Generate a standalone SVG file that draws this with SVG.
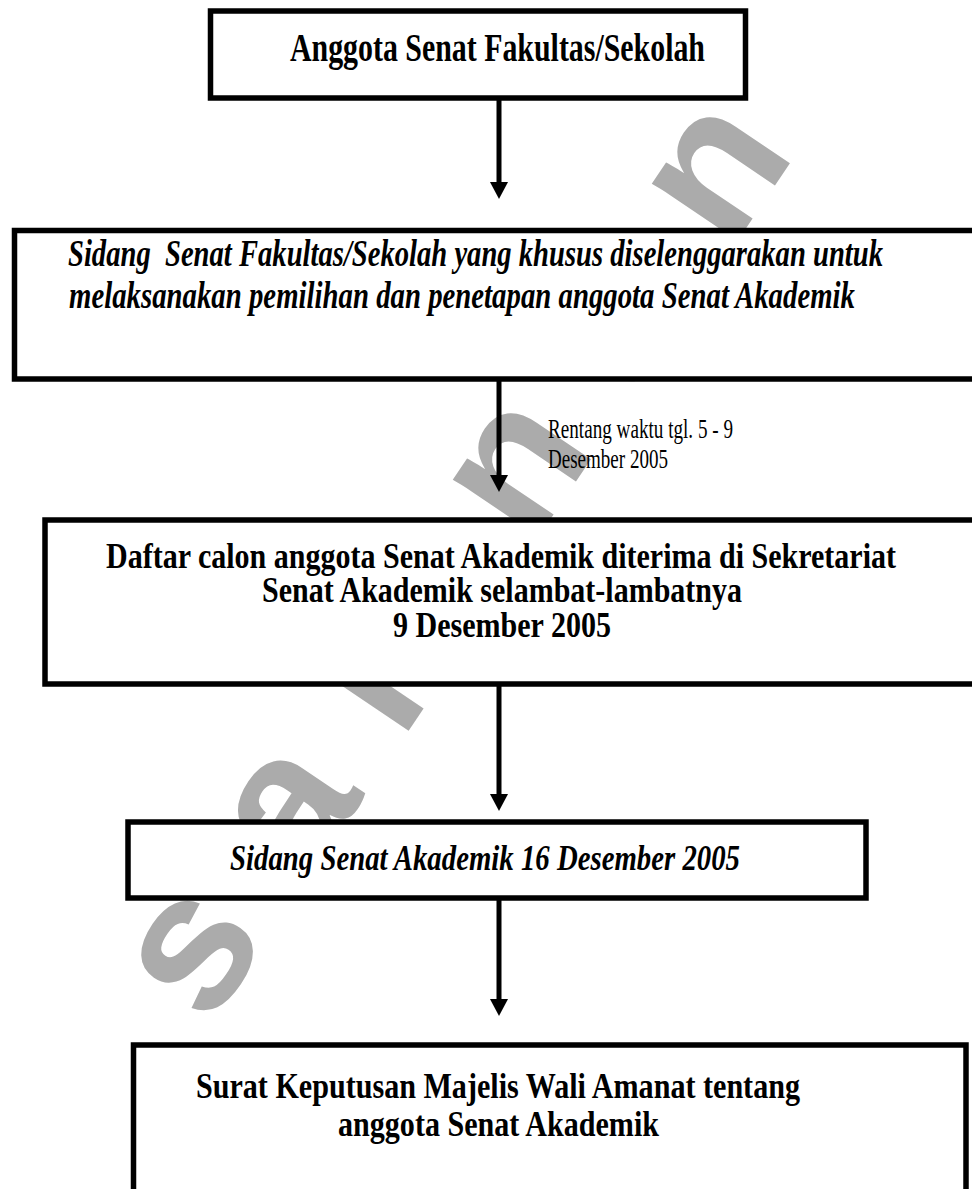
<svg xmlns="http://www.w3.org/2000/svg" width="972" height="1189" viewBox="0 0 972 1189">
<style>
.bg{fill:#fff}
.wm{font-family:"Liberation Sans",Arial,sans-serif;font-weight:bold;font-size:195px;fill:#ababab}
.box{fill:#fff;stroke:#000;stroke-width:5.5}
.t{font-family:"Liberation Serif","Times New Roman",serif;fill:#000;font-size:30px}
.b{font-weight:bold}
.i{font-style:italic}
.r{font-weight:normal;font-size:19px}
.conn{stroke:#000;stroke-width:5;fill:none}
</style>
<defs>
<marker id="ah" viewBox="0 0 17 18" refX="0" refY="9" markerWidth="17" markerHeight="18" markerUnits="userSpaceOnUse" orient="auto">
<path d="M0,0 L17,9 L0,18 Z" fill="#000"/>
</marker>
<clipPath id="gaps">
<rect x="0" y="101" width="972" height="127"/>
<rect x="0" y="381" width="972" height="137"/>
<rect x="0" y="686" width="972" height="134"/>
<rect x="0" y="900" width="972" height="143"/>
</clipPath>
</defs>
<rect class="bg" x="0" y="0" width="972" height="1189"/>
<g id="watermark" clip-path="url(#gaps)">
<text class="wm" transform="translate(209,1028) rotate(-56)">s</text>
<text class="wm" transform="translate(305,885) rotate(-56)">a</text>
<text class="wm" transform="translate(401,742) rotate(-56)">l</text>
<text class="wm" transform="translate(531,548) rotate(-56)">n</text>
<text class="wm" transform="translate(634,396) rotate(-56)">a</text>
<text class="wm" transform="translate(730,252) rotate(-56)">n</text>
</g>
<g id="connectors">
<line class="conn" x1="499" y1="100" x2="499" y2="182" marker-end="url(#ah)"/>
<line class="conn" x1="499" y1="381" x2="499" y2="475" marker-end="url(#ah)"/>
<line class="conn" x1="499" y1="686" x2="499" y2="794" marker-end="url(#ah)"/>
<line class="conn" x1="499" y1="900" x2="499" y2="999" marker-end="url(#ah)"/>
</g>
<g id="node1">
<rect class="box" x="210.5" y="11" width="535" height="87"/>
<text class="t b" x="290" y="61" textLength="415" lengthAdjust="spacingAndGlyphs" transform="matrix(1 0 0 1.33 0 -20.13)">Anggota Senat Fakultas/Sekolah</text>
</g>
<g id="node2">
<rect class="box" x="14.5" y="230.5" width="980" height="148.5"/>
<text class="t b i" x="68" y="266" textLength="815" lengthAdjust="spacingAndGlyphs" xml:space="preserve" style="font-size:28.6px" transform="matrix(1 0 0 1.29 0 -77.14)">Sidang  Senat Fakultas/Sekolah yang khusus diselenggarakan untuk</text>
<text class="t b i" x="69" y="308" textLength="786" lengthAdjust="spacingAndGlyphs" style="font-size:28.6px" transform="matrix(1 0 0 1.29 0 -89.32)">melaksanakan pemilihan dan penetapan anggota Senat Akademik</text>
</g>
<g id="label">
<text class="t r" x="548" y="438" textLength="185" lengthAdjust="spacingAndGlyphs" transform="matrix(1 0 0 1.42 0 -183.96)">Rentang waktu tgl. 5 - 9</text>
<text class="t r" x="548" y="468" textLength="120" lengthAdjust="spacingAndGlyphs" transform="matrix(1 0 0 1.42 0 -196.56)">Desember 2005</text>
</g>
<g id="node3">
<rect class="box" x="45" y="520" width="960" height="164"/>
<text class="t b" x="106" y="568" textLength="790" lengthAdjust="spacingAndGlyphs" transform="matrix(1 0 0 1.17 0 -96.56)">Daftar calon anggota Senat Akademik diterima di Sekretariat</text>
<text class="t b" x="262" y="602" textLength="480" lengthAdjust="spacingAndGlyphs" transform="matrix(1 0 0 1.17 0 -102.34)">Senat Akademik selambat-lambatnya</text>
<text class="t b" x="393" y="637" textLength="218" lengthAdjust="spacingAndGlyphs" transform="matrix(1 0 0 1.17 0 -108.29)">9 Desember 2005</text>
</g>
<g id="node4">
<rect class="box" x="128" y="822" width="738" height="76"/>
<text class="t b i" x="230" y="870" textLength="510" lengthAdjust="spacingAndGlyphs" style="font-size:28.7px" transform="matrix(1 0 0 1.22 0 -191.4)">Sidang Senat Akademik 16 Desember 2005</text>
</g>
<g id="node5">
<rect class="box" x="133.5" y="1045" width="832.5" height="200"/>
<text class="t b" x="196" y="1098" textLength="604" lengthAdjust="spacingAndGlyphs" transform="matrix(1 0 0 1.17 0 -186.66)">Surat Keputusan Majelis Wali Amanat tentang</text>
<text class="t b" x="338" y="1136" textLength="321" lengthAdjust="spacingAndGlyphs" transform="matrix(1 0 0 1.17 0 -193.12)">anggota Senat Akademik</text>
</g>
</svg>
